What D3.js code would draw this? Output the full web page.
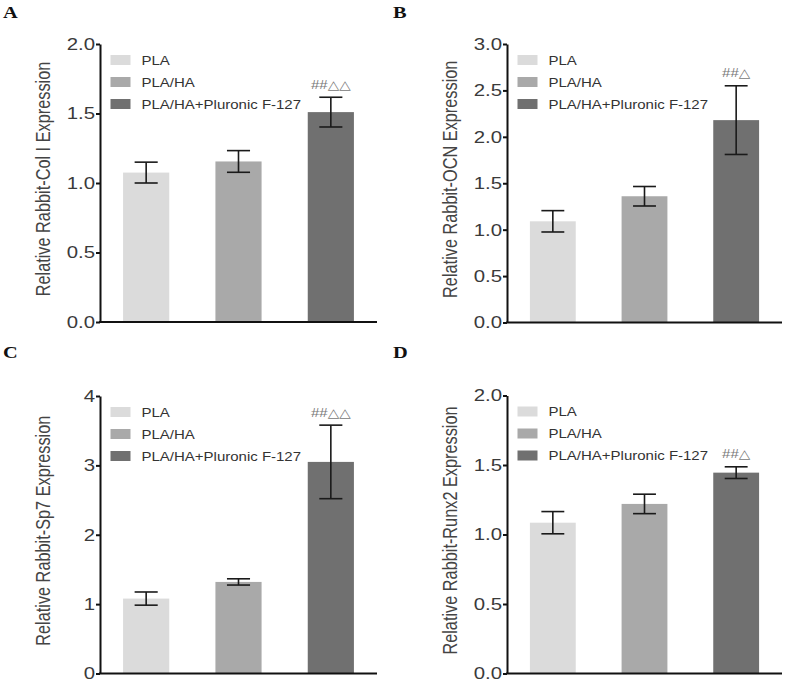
<!DOCTYPE html>
<html>
<head>
<meta charset="utf-8">
<script src="https://cdn.jsdelivr.net/npm/d3@7"></script>
<style>
  html, body { margin: 0; padding: 0; background: #fff; }
  svg { display: block; }
</style>
</head>
<body>
<svg id="chart" width="787" height="683"></svg>
<script>
// ---- data ----
const categories = ["PLA", "PLA/HA", "PLA/HA+Pluronic F-127"];
const colors = ["#dbdbdb", "#a9a9a9", "#707070"];

const colIValues = [1.075, 1.155, 1.51];
const colIErrors = [0.075, 0.078, 0.107];
const ocnValues = [1.09, 1.36, 2.18];
const ocnErrors = [0.115, 0.105, 0.37];
const sp7Values = [1.08, 1.32, 3.05];
const sp7Errors = [0.095, 0.045, 0.53];
const runx2Values = [1.085, 1.22, 1.445];
const runx2Errors = [0.08, 0.07, 0.042];

const panelLetters = ["A", "B", "C", "D"];
const yLabels = ["Relative Rabbit-Col I Expression", "Relative Rabbit-OCN Expression",
                 "Relative Rabbit-Sp7 Expression", "Relative Rabbit-Runx2 Expression"];
const yMaxes = [2, 3, 4, 2];
const tickA = [0, 0.5, 1.0, 1.5, 2.0];
const tickB = [0, 0.5, 1.0, 1.5, 2.0, 2.5, 3.0];
const tickC = [0, 1, 2, 3, 4];
const tickD = [0, 0.5, 1.0, 1.5, 2.0];
const annotations = ["##\u25B3\u25B3", "##\u25B3", "##\u25B3\u25B3", "##\u25B3"];

// ---- layout ----
const SX = 1.2; // horizontal text stretch seen in the reference
const panels = [
  {values: colIValues, errors: colIErrors, ticks: tickA, fmt: d3.format(".1f"), x0: 100, x1: 377, yTop: 44, yBot: 322, ox: 0, oy: 0},
  {values: ocnValues, errors: ocnErrors, ticks: tickB, fmt: d3.format(".1f"), x0: 507, x1: 782, yTop: 44, yBot: 322.5, ox: 390, oy: 0},
  {values: sp7Values, errors: sp7Errors, ticks: tickC, fmt: d3.format("d"), x0: 100, x1: 377, yTop: 396, yBot: 673.5, ox: 0, oy: 340},
  {values: runx2Values, errors: runx2Errors, ticks: tickD, fmt: d3.format(".1f"), x0: 507, x1: 782, yTop: 395.5, yBot: 673.5, ox: 390, oy: 340}
];

const svg = d3.select("#chart");

panels.forEach((p, i) => {
  const g = svg.append("g");
  const x = d3.scaleBand().domain(categories).range([p.x0, p.x1]).paddingInner(0.5).paddingOuter(0.25);
  const y = d3.scaleLinear().domain([0, yMaxes[i]]).range([p.yBot, p.yTop]);

  // panel letter
  g.append("text")
    .attr("transform", `translate(${p.ox + 3},${p.oy + 18}) scale(${SX},1)`)
    .attr("font-family", "'Liberation Serif', 'Times New Roman', serif")
    .attr("font-size", 17)
    .attr("font-weight", "bold")
    .attr("fill", "#111")
    .text(panelLetters[i]);

  // bars
  g.selectAll("rect.bar").data(p.values).join("rect")
    .attr("class", "bar")
    .attr("x", (d, j) => x(categories[j]))
    .attr("width", x.bandwidth())
    .attr("y", d => y(d))
    .attr("height", d => y(0) - y(d))
    .attr("fill", (d, j) => colors[j]);

  // error bars
  const capW = x.bandwidth() * 0.5;
  p.values.forEach((v, j) => {
    const cx = x(categories[j]) + x.bandwidth() / 2;
    const e = p.errors[j];
    const eg = g.append("g").attr("stroke", "#1a1a1a").attr("stroke-width", 1.6);
    eg.append("line").attr("x1", cx).attr("x2", cx).attr("y1", y(v + e)).attr("y2", y(v - e));
    eg.append("line").attr("x1", cx - capW / 2).attr("x2", cx + capW / 2).attr("y1", y(v + e)).attr("y2", y(v + e));
    eg.append("line").attr("x1", cx - capW / 2).attr("x2", cx + capW / 2).attr("y1", y(v - e)).attr("y2", y(v - e));
  });

  // annotation over third bar
  const j3 = 2;
  const cx3 = x(categories[j3]) + x.bandwidth() / 2;
  g.append("text")
    .attr("transform", `translate(${cx3},${y(p.values[j3] + p.errors[j3]) - 8.5}) scale(${SX},1)`)
    .attr("text-anchor", "middle")
    .attr("font-family", "'Liberation Sans', Arial, 'DejaVu Sans', sans-serif")
    .attr("font-size", 12.5)
    .attr("fill", "#777")
    .text(annotations[i]);

  // y axis
  const ax = g.append("g")
    .attr("transform", `translate(${p.x0},0)`)
    .call(d3.axisLeft(y).tickValues(p.ticks).tickFormat(p.fmt).tickSize(4).tickSizeOuter(0).tickPadding(1));
  ax.select(".domain").attr("stroke", "#111").attr("stroke-width", 2);
  ax.selectAll(".tick line").attr("stroke", "#111").attr("stroke-width", 2);
  ax.selectAll(".tick text")
    .attr("x", -5 / SX)
    .attr("transform", `scale(${SX},1)`)
    .attr("font-family", "'Liberation Sans', Arial, sans-serif")
    .attr("font-size", 17)
    .attr("fill", "#3a3a3a");

  // x axis baseline
  g.append("line")
    .attr("x1", p.x0 - 1).attr("x2", p.x1)
    .attr("y1", y(0)).attr("y2", y(0))
    .attr("stroke", "#111").attr("stroke-width", 2);

  // y label
  g.append("text")
    .attr("transform", `translate(${p.x0 - 50},${(p.yTop + p.yBot) / 2 - 4}) scale(${SX},1) rotate(-90)`)
    .attr("text-anchor", "middle")
    .attr("font-family", "'Liberation Sans', Arial, sans-serif")
    .attr("font-size", 16.3)
    .attr("fill", "#444")
    .text(yLabels[i]);

  // legend
  const lx = p.x0 + 10.5;
  const ly = p.yTop + 16;
  const lg = g.append("g");
  categories.forEach((c, j) => {
    const ry = ly + j * 22;
    lg.append("rect").attr("x", lx).attr("y", ry - 5).attr("width", 20).attr("height", 10).attr("fill", colors[j]);
    lg.append("text")
      .attr("transform", `translate(${lx + 31},${ry + 4.5}) scale(${SX},1)`)
      .attr("font-family", "'Liberation Sans', Arial, sans-serif")
      .attr("font-size", 12.5)
      .attr("fill", "#333")
      .text(c);
  });
});
</script>
</body>
</html>
